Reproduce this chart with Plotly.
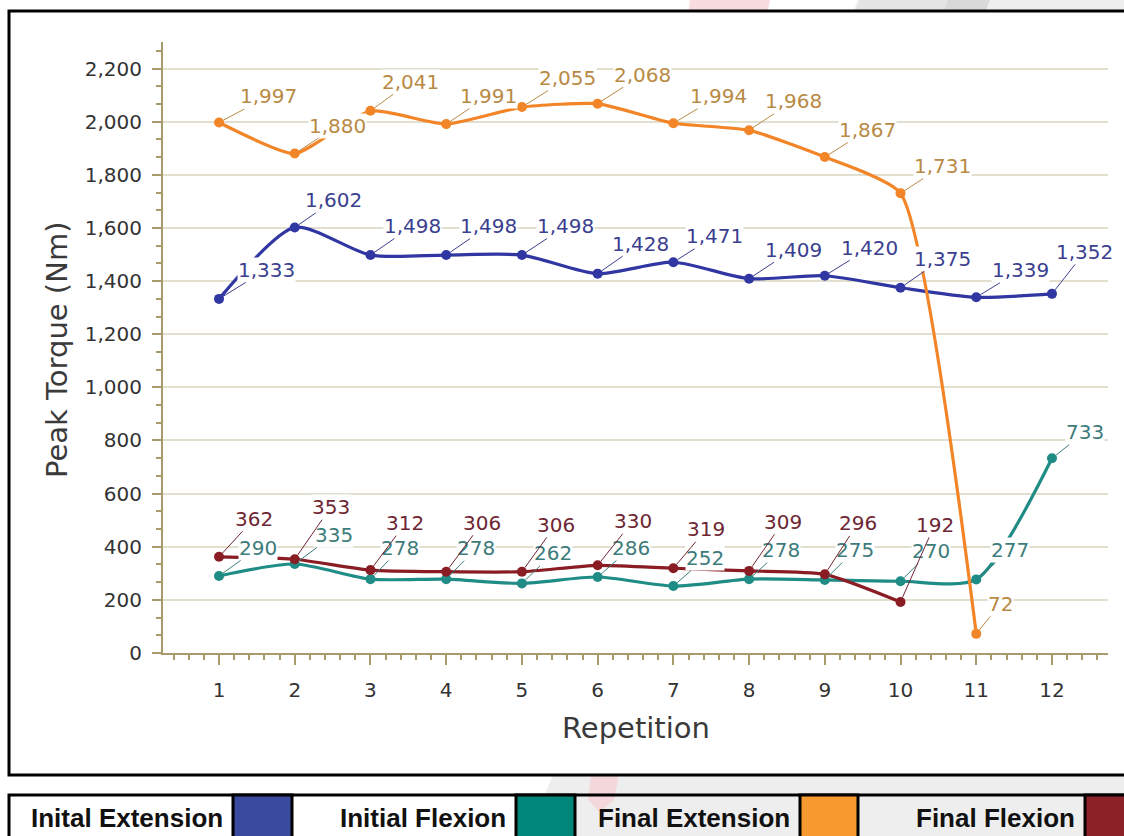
import plotly.graph_objects as go

# ---------------- data ----------------
repetitions = list(range(1, 13))
initial_extension = [1333, 1602, 1498, 1498, 1498, 1428, 1471, 1409, 1420, 1375, 1339, 1352]
initial_flexion = [290, 335, 278, 278, 262, 286, 252, 278, 275, 270, 277, 733]
final_extension = [1997, 1880, 2041, 1991, 2055, 2068, 1994, 1968, 1867, 1731, 72]
final_flexion = [362, 353, 312, 306, 306, 330, 319, 309, 296, 192]
series_names = ["Inital Extension", "Initial Flexion", "Final Extension", "Final Flexion"]
y_tick_values = list(range(0, 2201, 200))
x_title = "Repetition"
y_title = "Peak Torque (Nm)"

# ---------------- styles ----------------
line_colors = ["#3036a2", "#1f8c86", "#f28527", "#8a1c24"]
label_colors = ["#3b3f8f", "#3d7c7b", "#b98a45", "#6e2633"]
swatch_colors = ["#3a4a9e", "#00877a", "#f7992e", "#8c2228"]
smoothings = [0.7, 0.7, 0.5, 0.6]

# label offsets in pixels (dx, dy) relative to each point
off_ie = [(47, -29), (39, -27), (42, -29), (42, -29), (44, -29), (43, -30), (41, -26),
          (44, -29), (45, -28), (42, -29), (44, -27), (33, -42)]
off_if = [(39, -28), (39, -29), (30, -31), (30, -31), (31, -30), (33, -29), (32, -28),
          (32, -29), (30, -30), (30, -30), (34, -29), (33, -26)]
off_fe = [(49, -26), (43, -28), (40, -29), (42, -28), (46, -29), (45, -29), (45, -27),
          (44, -29), (43, -27), (42, -27), (24, -30)]
off_ff = [(35, -38), (36, -52), (35, -47), (36, -49), (34, -47), (35, -44), (33, -39),
          (34, -49), (33, -51), (34, -77)]

W, H = 1124, 836
L, R, T, B = 163, 16, 42, 183
PW, PH = W - L - R, H - T - B


def px(x):
    return (x - L) / PW


def py(y):
    return (H - B - y) / PH


series = [initial_extension, initial_flexion, final_extension, final_flexion]
offsets = [off_ie, off_if, off_fe, off_ff]

fig = go.Figure()
for name, vals, col, sm in zip(series_names, series, line_colors, smoothings):
    fig.add_trace(go.Scatter(
        x=repetitions[:len(vals)], y=vals, name=name, mode="lines+markers",
        line=dict(color=col, width=3.2, shape="spline", smoothing=sm),
        marker=dict(color=col, size=10),
        showlegend=False,
    ))

annotations = []
for vals, offs, lc in zip(series, offsets, label_colors):
    for i, v in enumerate(vals):
        dx, dy = offs[i]
        annotations.append(dict(
            x=repetitions[i], y=v, xref="x", yref="y",
            text=f"{v:,}", showarrow=True, arrowhead=0, arrowwidth=1,
            arrowcolor=lc, ax=dx, ay=dy, standoff=5,
            font=dict(family="DejaVu Sans", size=20, color=lc),
            bgcolor="white", borderpad=0,
        ))

# axis titles
annotations.append(dict(x=px(57), y=py(350), xref="paper", yref="paper", text=y_title,
                        textangle=-90, showarrow=False, xanchor="center", yanchor="middle",
                        font=dict(family="DejaVu Sans", size=29, color="#3a3a3a")))
annotations.append(dict(x=px(636), y=py(728), xref="paper", yref="paper", text=x_title,
                        showarrow=False, xanchor="center", yanchor="middle",
                        font=dict(family="DejaVu Sans", size=29, color="#3a3a3a")))

# custom legend row
cells = [(8, 233, 292), (292, 516, 575), (575, 800, 858), (858, 1085, 1130)]
shapes = []
# watermark background
shapes.append(dict(type="path", xref="paper", yref="paper", layer="below",
                   path=f"M {px(858)},{py(0)} L {px(1130)},{py(0)} L {px(1130)},{py(840)} L {px(527)},{py(840)} Z",
                   fillcolor="#eeeeee", line=dict(width=0)))
shapes.append(dict(type="path", xref="paper", yref="paper", layer="below",
                   path=f"M {px(860)},{py(0)} L {px(948)},{py(0)} L {px(940)},{py(20)} L {px(852)},{py(20)} Z",
                   fillcolor="#e5e5e5", line=dict(width=0)))
shapes.append(dict(type="path", xref="paper", yref="paper", layer="below",
                   path=f"M {px(948)},{py(0)} L {px(990)},{py(0)} L {px(982)},{py(20)} L {px(940)},{py(20)} Z",
                   fillcolor="#d9d9d9", line=dict(width=0)))
shapes.append(dict(type="path", xref="paper", yref="paper", layer="below",
                   path=f"M {px(690)},{py(0)} L {px(770)},{py(0)} L {px(614)},{py(800)} L {px(600)},{py(812)} L {px(588)},{py(800)} Z",
                   fillcolor="#f5cdd2", opacity=0.7, line=dict(width=0)))
# chart box
shapes.append(dict(type="rect", xref="paper", yref="paper", layer="below",
                   x0=px(9), x1=px(1135), y0=py(11), y1=py(775),
                   fillcolor="white", line=dict(color="black", width=3)))
# legend
shapes.append(dict(type="rect", xref="paper", yref="paper", layer="below",
                   x0=px(9), x1=px(1135), y0=py(795), y1=py(850),
                   line=dict(color="black", width=3)))
for (x0, xs, xe), sc, nm in zip(cells, swatch_colors, series_names):
    shapes.append(dict(type="rect", xref="paper", yref="paper", layer="below",
                       x0=px(xs), x1=px(xe), y0=py(795), y1=py(850),
                       fillcolor=sc, line=dict(color="black", width=3)))
    annotations.append(dict(x=px(xs - 8), y=py(818), xref="paper", yref="paper",
                            text=f"<b>{nm}</b>", showarrow=False, xanchor="right",
                            yanchor="middle",
                            font=dict(family="Liberation Sans", size=26, color="#111111")))

fig.update_layout(
    width=W, height=H,
    margin=dict(l=L, r=R, t=T, b=B),
    paper_bgcolor="white", plot_bgcolor="rgba(0,0,0,0)",
    shapes=shapes, annotations=annotations,
    font=dict(family="DejaVu Sans"),
)
fig.update_xaxes(
    range=[0.26, 12.74], tickmode="array", tickvals=repetitions,
    ticktext=[str(r) for r in repetitions],
    showgrid=False, zeroline=False, showline=True, linecolor="#a89a6a", linewidth=2,
    ticks="outside", ticklen=10, tickwidth=2, tickcolor="#a89a6a",
    tickfont=dict(family="DejaVu Sans", size=20, color="#333333"),
    ticklabelstandoff=8,
    minor=dict(dtick=0.2, tick0=0, ticks="outside", ticklen=5, tickwidth=1.5,
               tickcolor="#a89a6a", showgrid=False),
)
fig.update_yaxes(
    range=[0, 2300], tickmode="array", tickvals=y_tick_values,
    ticktext=[f"{v:,}" for v in y_tick_values],
    showgrid=True, gridcolor="#e3dfcf", gridwidth=2, zeroline=False,
    showline=True, linecolor="#a89a6a", linewidth=2,
    ticks="outside", ticklen=9, tickwidth=2, tickcolor="#a89a6a",
    tickfont=dict(family="DejaVu Sans", size=20, color="#333333"),
    ticklabelstandoff=6,
    minor=dict(dtick=200 / 3, tick0=0, ticks="outside", ticklen=5, tickwidth=1.5,
               tickcolor="#a89a6a", showgrid=False),
)

fig.write_html("out.html", config={"displayModeBar": False},
               post_script="document.body.style.margin='0';document.body.style.overflow='hidden';")
